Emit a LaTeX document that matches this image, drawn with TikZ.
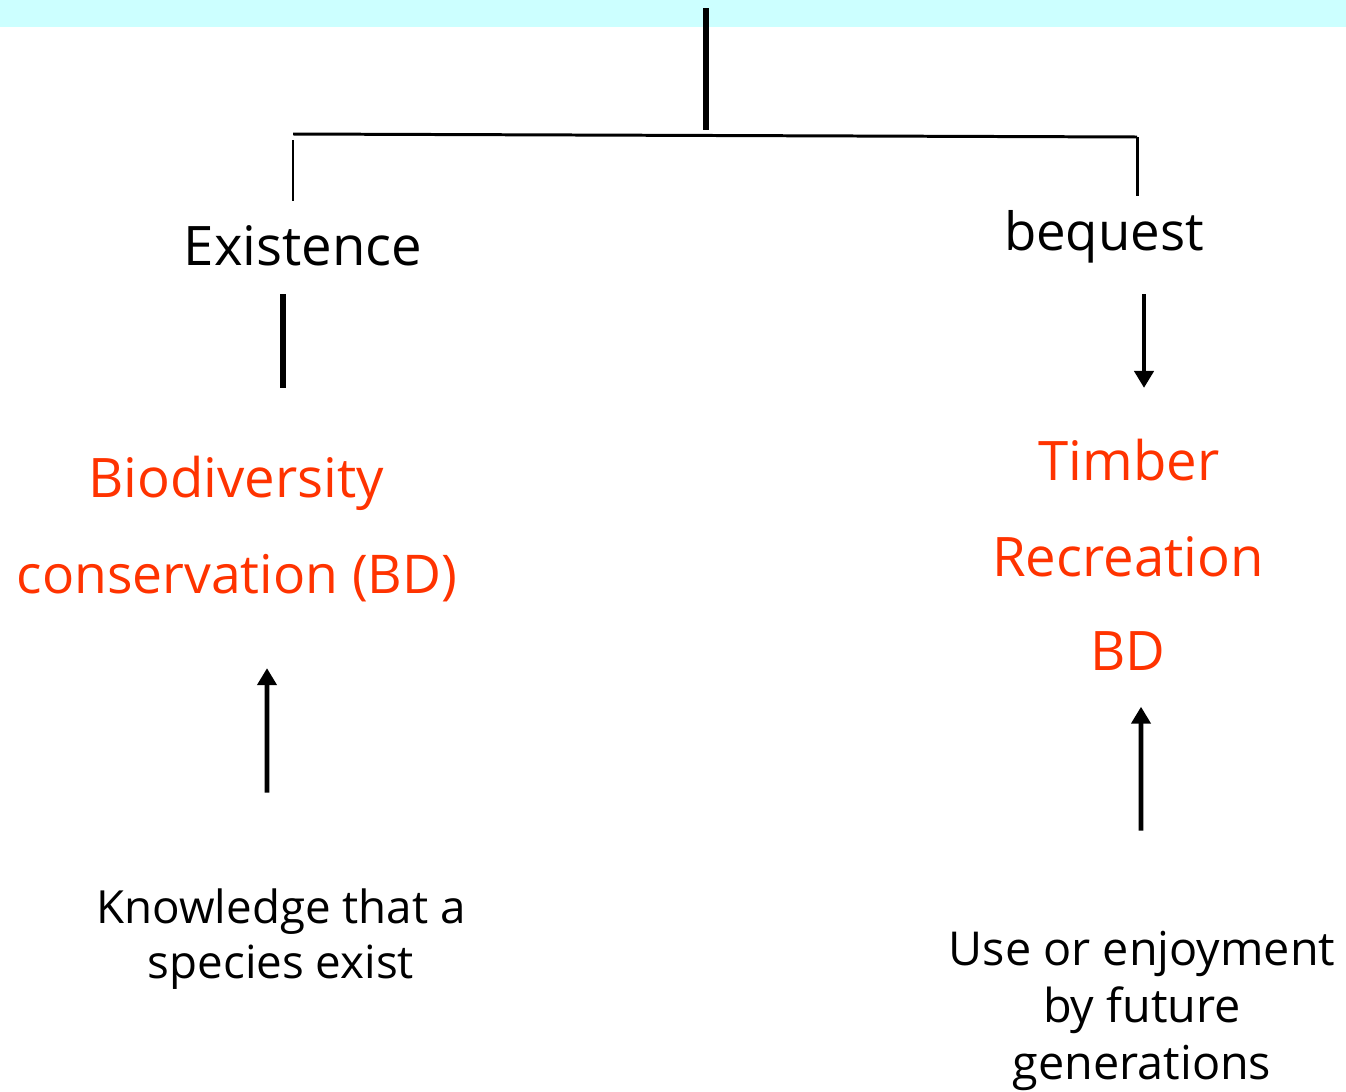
\documentclass[tikz,border=0pt]{standalone}
\usepackage{fontspec}
\setmainfont{Open Sans}
\usepackage{xcolor}
\usepackage{tikz}
\definecolor{bandcyan}{RGB}{204,255,255}
\definecolor{valred}{RGB}{255,51,0}
\usetikzlibrary{arrows.meta,positioning}

\begin{document}
\begin{tikzpicture}[
  heading/.style={
    font=\fontsize{15.5}{18}\selectfont, inner sep=0pt
  },
  good/.style={
    text=valred, font=\fontsize{15.5}{18}\selectfont, inner sep=0pt
  },
  note/.style={
    align=center, inner sep=0pt,
    font=\fontsize{13}{15.8}\selectfont
  },
  branch/.style={line width=0.85pt},
  stem/.style={line width=1.7pt},
  arrow/.style={-{Triangle[length=1.7mm, width=1.9mm]}, line width=1.4pt}
]
\useasboundingbox (0,0) rectangle (13.46,-10.91);
\fill[bandcyan] (0,0) rectangle (13.46,-0.27);
\coordinate (top) at (7.06,-0.08);
\coordinate (joint) at (7.06,-1.30);
\coordinate (lcorner) at (2.93,-1.34);
\coordinate (rcorner) at (11.37,-1.37);
\node[heading, anchor=base] (exist) at (3.03,-2.65) {Existence};
\node[heading, anchor=base, font=\fontsize{15}{18}\selectfont] (bequest) at (11.04,-2.50) {bequest};
\node[good, anchor=base] (bio) at (2.36,-4.97) {Biodiversity};
\node[good, anchor=base, font=\fontsize{15.2}{18}\selectfont] (cons) at (2.37,-5.93) {conservation (BD)};
\node[good, anchor=base] (timber) at (11.29,-4.80) {Timber};
\node[good, anchor=base] (recre) at (11.28,-5.76) {Recreation};
\node[good, anchor=base] (bd) at (11.28,-6.70) {BD};
\node[note] (know) at (2.81,-9.39) {Knowledge that a\\species exist};
\node[note, font=\fontsize{13.3}{16.2}\selectfont] (future) at (11.42,-10.11) {Use or enjoyment\\by future\\generations};
\draw[stem] (top) -- (joint);
\draw[branch] (lcorner) -- (rcorner);
\draw[branch] ([yshift=-0.06cm]lcorner) -- ([yshift=0.23cm]exist.north -| lcorner);
\draw[branch] (rcorner) -- ([yshift=0.13cm]bequest.north -| rcorner);
\draw[stem] ([xshift=-2mm,yshift=-2.8mm]exist.south) -- ([xshift=4.7mm,yshift=6.7mm]bio.north);
\draw[arrow] ([xshift=4mm,yshift=-3.1mm]bequest.south) -- ([xshift=1.5mm,yshift=5mm]timber.north);
\draw[arrow] ([xshift=-1.4mm,yshift=9.5mm]know.north) -- ([xshift=3mm,yshift=-6.6mm]cons.south);
\draw[arrow] ([xshift=-0.1mm,yshift=10mm]future.north) -- ([xshift=1.3mm,yshift=-3.6mm]bd.south);
\end{tikzpicture}
\end{document}
